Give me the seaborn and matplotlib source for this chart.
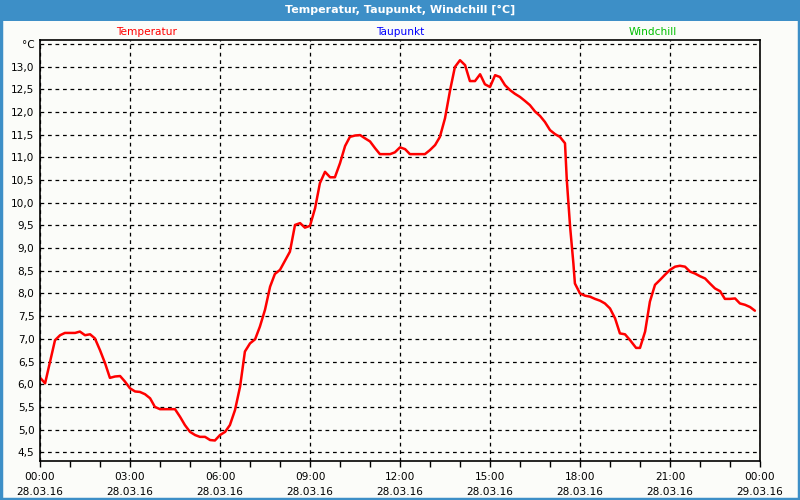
import matplotlib
matplotlib.use("Agg")
import matplotlib.pyplot as plt
import seaborn as sns
import pandas as pd
from matplotlib.patches import Rectangle

# ---- data (hours since 28.03.16 00:00, temperature in °C) ----
hours = [0.02, 0.17, 0.5, 0.67, 0.83, 1.17, 1.33, 1.5, 1.67, 1.83, 2.0, 2.17, 2.33,
         2.5, 2.67, 2.83, 3.0, 3.17, 3.33, 3.5, 3.67, 3.83, 4.0, 4.5, 4.67, 4.83,
         5.0, 5.17, 5.33, 5.5, 5.67, 5.83, 6.0, 6.17, 6.33, 6.5, 6.67, 6.83, 7.0,
         7.17, 7.33, 7.5, 7.67, 7.83, 8.0, 8.33, 8.5, 8.67, 8.83, 9.0, 9.17, 9.33,
         9.5, 9.67, 9.83, 10.0, 10.17, 10.33, 10.5, 10.67, 10.83, 11.0, 11.17,
         11.33, 11.67, 11.83, 12.0, 12.17, 12.33, 12.83, 13.0, 13.17, 13.33, 13.5,
         13.67, 13.83, 14.0, 14.17, 14.33, 14.5, 14.67, 14.83, 15.0, 15.17, 15.33,
         15.5, 15.67, 15.83, 16.0, 16.17, 16.33, 16.5, 16.67, 16.83, 17.0, 17.17,
         17.33, 17.5, 17.56, 17.67, 17.78, 17.83, 18.0, 18.17, 18.33, 18.5, 18.67,
         18.83, 19.0, 19.17, 19.33, 19.5, 19.67, 19.87, 20.0, 20.17, 20.33, 20.5,
         20.67, 20.83, 21.0, 21.17, 21.33, 21.5, 21.67, 21.83, 22.0, 22.17, 22.33,
         22.5, 22.67, 22.83, 23.0, 23.17, 23.33, 23.5, 23.67, 23.83]
temperatur = [6.13, 6.02, 6.97, 7.08, 7.13, 7.13, 7.16, 7.08, 7.10, 7.01, 6.75, 6.46,
              6.14, 6.17, 6.18, 6.06, 5.91, 5.84, 5.83, 5.78, 5.69, 5.50, 5.45, 5.45,
              5.28, 5.10, 4.95, 4.88, 4.84, 4.84, 4.77, 4.76, 4.88, 4.95, 5.10, 5.43,
              5.95, 6.72, 6.90, 6.99, 7.27, 7.64, 8.15, 8.43, 8.52, 8.92, 9.51, 9.55,
              9.45, 9.49, 9.88, 10.43, 10.68, 10.56, 10.56, 10.87, 11.25, 11.45, 11.48,
              11.49, 11.42, 11.35, 11.20, 11.07, 11.07, 11.11, 11.22, 11.18, 11.07,
              11.07, 11.16, 11.27, 11.45, 11.86, 12.48, 12.99, 13.14, 13.03, 12.68,
              12.68, 12.83, 12.61, 12.55, 12.81, 12.77, 12.59, 12.48, 12.40, 12.33,
              12.24, 12.15, 12.01, 11.91, 11.78, 11.60, 11.51, 11.45, 11.31, 10.50,
              9.47, 8.66, 8.22, 8.00, 7.95, 7.93, 7.88, 7.84, 7.78, 7.67, 7.45, 7.12,
              7.10, 6.97, 6.80, 6.80, 7.16, 7.82, 8.19, 8.30, 8.41, 8.52, 8.59, 8.61,
              8.59, 8.48, 8.44, 8.38, 8.33, 8.22, 8.11, 8.05, 7.88, 7.88, 7.89, 7.78,
              7.75, 7.70, 7.62]

series_names = ["Temperatur", "Taupunkt", "Windchill"]
series_colors = ["#ff0000", "#0000ff", "#00c000"]
title = "Temperatur, Taupunkt, Windchill [°C]"

y_ticks = [4.5, 5.0, 5.5, 6.0, 6.5, 7.0, 7.5, 8.0, 8.5, 9.0, 9.5, 10.0, 10.5,
           11.0, 11.5, 12.0, 12.5, 13.0, 13.5]
y_labels = ["4,5", "5,0", "5,5", "6,0", "6,5", "7,0", "7,5", "8,0", "8,5", "9,0",
            "9,5", "10,0", "10,5", "11,0", "11,5", "12,0", "12,5", "13,0", "°C"]
x_ticks = [0, 3, 6, 9, 12, 15, 18, 21, 24]
x_labels = ["00:00\n28.03.16", "03:00\n28.03.16", "06:00\n28.03.16",
            "09:00\n28.03.16", "12:00\n28.03.16", "15:00\n28.03.16",
            "18:00\n28.03.16", "21:00\n28.03.16", "00:00\n29.03.16"]

df = pd.DataFrame({"h": hours, "t": temperatur})

sns.set_style("white")
plt.rcParams["font.family"] = ["DejaVu Sans"]

bg = "#fbfcf9"
fig = plt.figure(figsize=(8, 5), dpi=100, facecolor=bg)
ax = fig.add_axes([40 / 800, 1 - 461 / 500, 720 / 800, 421 / 500])
ax.set_facecolor(bg)

sns.lineplot(data=df, x="h", y="t", ax=ax, color=series_colors[0], linewidth=1.8)

ax.set_xlim(0, 24)
ax.set_ylim(4.308, 13.585)
ax.set_xticks(x_ticks)
ax.set_xticklabels(x_labels, fontsize=7.6, color="black", linespacing=1.6)
ax.set_xticks(range(0, 25), minor=True)
ax.set_yticks(y_ticks)
ax.set_yticklabels(y_labels, fontsize=7.6, color="black")
ax.tick_params(axis="x", which="both", direction="out", length=4, width=1,
               color="black", pad=4, bottom=True)
ax.tick_params(axis="y", length=0, pad=4, left=True)
ax.grid(True, which="major", color="black", linestyle=(0, (3, 3)), linewidth=0.9)
ax.set_xlabel("")
ax.set_ylabel("")
for s in ax.spines.values():
    s.set_color("black")
    s.set_linewidth(1.2)

# title bar and frame
fig.patches.append(Rectangle((0, 1 - 21 / 500), 1, 21 / 500, transform=fig.transFigure,
                             facecolor="#3d8fc7", edgecolor="none", zorder=0))
fig.patches.append(Rectangle((0.001, 0.002), 0.998, 0.996, transform=fig.transFigure,
                             facecolor="none", edgecolor="#3d8fc7", linewidth=2.5,
                             zorder=5))
fig.text(0.5, 1 - 10 / 500, title, ha="center", va="center", color="white",
         fontsize=8, fontweight="bold")

legend_x = [147 / 800, 400 / 800, 653 / 800]
for name, col, xx in zip(series_names, series_colors, legend_x):
    fig.text(xx, 1 - 32 / 500, name, ha="center", va="center", color=col, fontsize=7.6)

fig.savefig("out.png", dpi=100, facecolor=bg)
